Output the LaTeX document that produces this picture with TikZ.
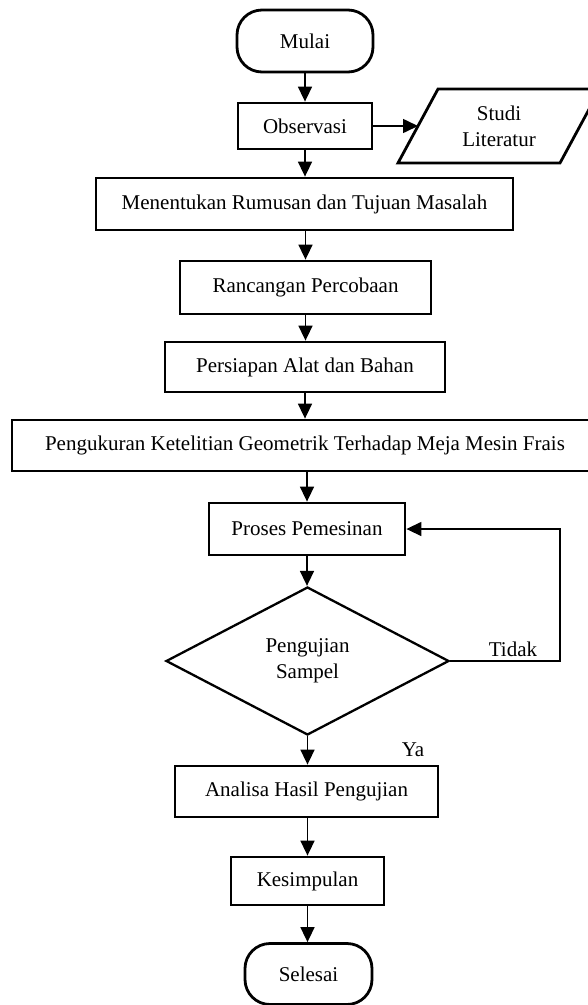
\documentclass[tikz,border=0pt]{standalone}
\usepackage{fontspec}
\setmainfont{Liberation Serif}
\usetikzlibrary{arrows.meta,shapes.geometric}
\begin{document}
\begin{tikzpicture}[x=1pt,y=-1pt,
  every node/.style={font=\fontsize{21}{26}\selectfont, inner sep=0pt},
  box/.style={draw, line width=2.8pt, minimum width=#1, align=center},
  term/.style={draw, line width=2.8pt, rounded corners=25pt, minimum width=#1},
  flow/.style={line width=1.6pt, -{Triangle[length=15pt,width=14pt]}},
  loopline/.style={line width=1.4pt, -{Triangle[length=15pt,width=14pt]}}
]
\useasboundingbox (0,0) rectangle (587,1005);

\node[term=136pt, minimum height=62pt] (mulai) at (305,41) {Mulai};
\node[box=134pt, minimum height=46pt] (obs) at (305,126) {Observasi};
% parallelogram (Studi Literatur), partly beyond the right margin as in the reference
\draw[line width=2.8pt, line join=miter] (398,163) -- (438,89) -- (600,89) -- (560,163) -- cycle;
\node[align=center] (studi) at (499,126) {Studi\\Literatur};
\coordinate (studiw) at (418,126);
\node[box=417pt, minimum height=52pt] (rumus) at (304.5,204) {Menentukan Rumusan dan Tujuan Masalah};
\node[box=251pt, minimum height=53pt] (ranc) at (305.5,287.5) {Rancangan Percobaan};
\node[box=280pt, minimum height=50pt] (persi) at (305,367) {Persiapan Alat dan Bahan};
\node[box=586pt, minimum height=51pt] (ukur) at (305,445.5) {Pengukuran Ketelitian Geometrik Terhadap Meja Mesin Frais};
\node[box=196pt, minimum height=52pt] (proses) at (307,529) {Proses Pemesinan};
\node[draw, line width=2.3pt, shape=diamond, minimum width=283pt, minimum height=148pt, align=center] (uji) at (307.5,661) {Pengujian\\Sampel};
\node[box=263pt, minimum height=51pt] (analisa) at (306.5,791.5) {Analisa Hasil Pengujian};
\node[box=153pt, minimum height=48pt] (simpul) at (307.5,881) {Kesimpulan};
\node[term=127pt, minimum height=61pt] (selesai) at (308.5,974) {Selesai};

\node (tidak) at (513,649) {Tidak};
\node (ya) at (413,750) {Ya};

\draw[flow] (mulai.south) -- (mulai.south |- obs.north);
\draw[flow] (obs.east) -- (studiw);
\draw[flow] (obs.south) -- (obs.south |- rumus.north);
\draw[flow] (rumus.south -| ranc.north) -- (ranc.north);
\draw[flow] (ranc.south) -- (ranc.south |- persi.north);
\draw[flow] (persi.south) -- (persi.south |- ukur.north);
\draw[flow] (ukur.south -| proses.north) -- (proses.north);
\draw[flow] (proses.south) -- (proses.south |- uji.north);
\draw[flow] (uji.south) -- (uji.south |- analisa.north);
\draw[flow] (analisa.south -| simpul.north) -- (simpul.north);
\draw[flow] (simpul.south) -- (simpul.south |- selesai.north);
\coordinate (loopc) at (560,661);
\draw[loopline] (uji.east) -- (loopc) |- (proses.east);
\end{tikzpicture}
\end{document}
